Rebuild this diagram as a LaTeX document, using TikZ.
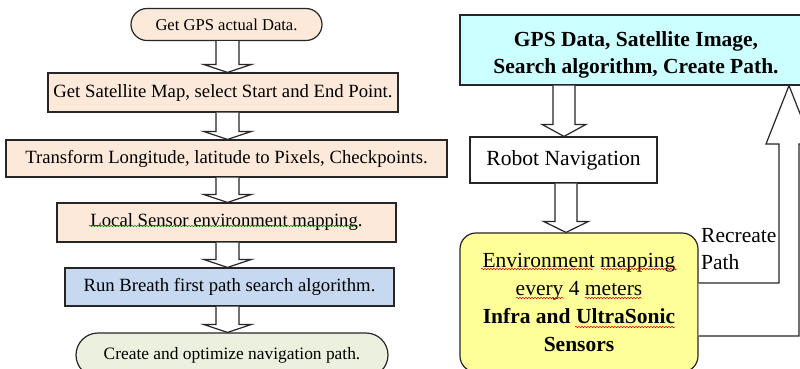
\documentclass[tikz,border=0pt]{standalone}
\usepackage{fontspec}
\setmainfont{Liberation Serif}
\usetikzlibrary{calc,decorations.pathmorphing}
\definecolor{peach}{HTML}{FDE9D9}
\definecolor{bluebox}{HTML}{C6D9F1}
\definecolor{greenbox}{HTML}{EBF1DE}
\definecolor{cyanbox}{HTML}{CCFFFF}
\definecolor{yellowbox}{HTML}{FFFF99}
\definecolor{edge}{HTML}{262626}
\newcommand\downblock[6]{%
  \draw[blk] let \p1=(#1.south), \p2=(#2.north) in
  (#3pt-#4pt,\y1) -- (#3pt-#4pt,\y2+#6pt) -- (#3pt-#5pt,\y2+#6pt) -- (#3pt,\y2)
  -- (#3pt+#5pt,\y2+#6pt) -- (#3pt+#4pt,\y2+#6pt) -- (#3pt+#4pt,\y1);}
\begin{document}
\begin{tikzpicture}[x=1pt,y=-1pt,
  box/.style={draw=edge,line width=1.2pt,rectangle,inner sep=0pt,align=center,
    text=black,font=\fontsize{18.7}{22}\selectfont},
  blk/.style={draw=edge,line width=1.2pt,fill=white,line join=miter},
  wavyred/.style={draw=red!85!black,line width=0.5pt,decorate,
    decoration={snake,amplitude=0.7pt,segment length=3pt}},
  wavygreen/.style={draw=green!55!black,line width=0.5pt,decorate,
    decoration={snake,amplitude=0.7pt,segment length=3pt}}]
\clip (0,0) rectangle (800,368);
\fill[white] (0,0) rectangle (800,368);

% left column
\node[box,fill=peach,rounded corners=16pt,minimum width=191pt,minimum height=32pt,
  font=\fontsize{16.6}{20}\selectfont] (start) at (226.5,24.5) {Get GPS actual Data.};
\node[box,fill=peach,minimum width=350pt,minimum height=39pt] (b2) at (223,92.5)
  {Get Satellite Map, select Start and End Point.};
\node[box,fill=peach,minimum width=441pt,minimum height=37pt] (b3) at (226.5,158.5)
  {Transform Longitude, latitude to Pixels, Checkpoints.};
\node[box,fill=peach,minimum width=339pt,minimum height=39pt] (b4) at (226.5,222.5)
  {Local Sensor environment mapping.};
\node[box,fill=bluebox,minimum width=329pt,minimum height=38pt] (b5) at (229.5,287)
  {Run Breath first path search algorithm.};
\node[box,fill=greenbox,rounded corners=22pt,minimum width=312pt,minimum height=44pt,
  font=\fontsize{17.4}{21}\selectfont] (fin) at (232,355)
  {Create and optimize navigation path.};

\downblock{start}{b2}{227.5}{11.5}{24}{8}
\downblock{b2}{b3}{227.5}{11.5}{24}{8}
\downblock{b3}{b4}{227.5}{11.5}{24}{8}
\downblock{b4}{b5}{227.5}{11.5}{24}{8}
\downblock{b5}{fin}{227.5}{11.5}{24}{8}

\draw[wavygreen] (89,226) -- (357,226);

% right column
\node[box,fill=cyanbox,minimum width=355pt,minimum height=70pt] (cyan) at (637.5,50) {};
\node[align=center,inner sep=0pt,font=\fontsize{21.5}{27}\selectfont\bfseries]
  (cyantext) at (636,55) {GPS Data, Satellite Image,\\Search algorithm, Create Path.};
\node[box,fill=white,minimum width=187pt,minimum height=46pt,
  font=\fontsize{21.6}{26}\selectfont] (robot) at (563.5,160) {\raisebox{-1.5pt}{Robot Navigation}};
\node[box,fill=yellowbox,rounded corners=16pt,minimum width=238pt,minimum height=139pt,
  font=\fontsize{21.5}{27.7}\selectfont] (yel) at (579,302.5)
  {Environment mapping\\every 4 meters\\\textbf{Infra and UltraSonic}\\\textbf{Sensors}};

\downblock{cyan}{robot}{564}{11}{22}{12}
\downblock{robot}{yel}{566}{11}{22.5}{11}

\draw[wavyred] (481,269) -- (593,269);
\draw[wavyred] (601,269) -- (677,269);
\draw[wavyred] (516,298) -- (564,298);
\draw[wavyred] (585,298) -- (642,298);
\draw[wavyred] (575,327) -- (675,327);

% feedback bent arrow
\draw[blk] (yel.east |- 0,283) -- (779,283) -- (779,144) -- (766,144)
  -- (cyan.south -| 789,0) -- (812,144) -- (799,144) -- (799,336)
  -- (yel.east |- 0,336);
\node[anchor=west,align=left,inner sep=0pt,font=\fontsize{21.5}{27}\selectfont]
  (recreate) at (701,249) {Recreate\\Path};
\end{tikzpicture}
\end{document}
